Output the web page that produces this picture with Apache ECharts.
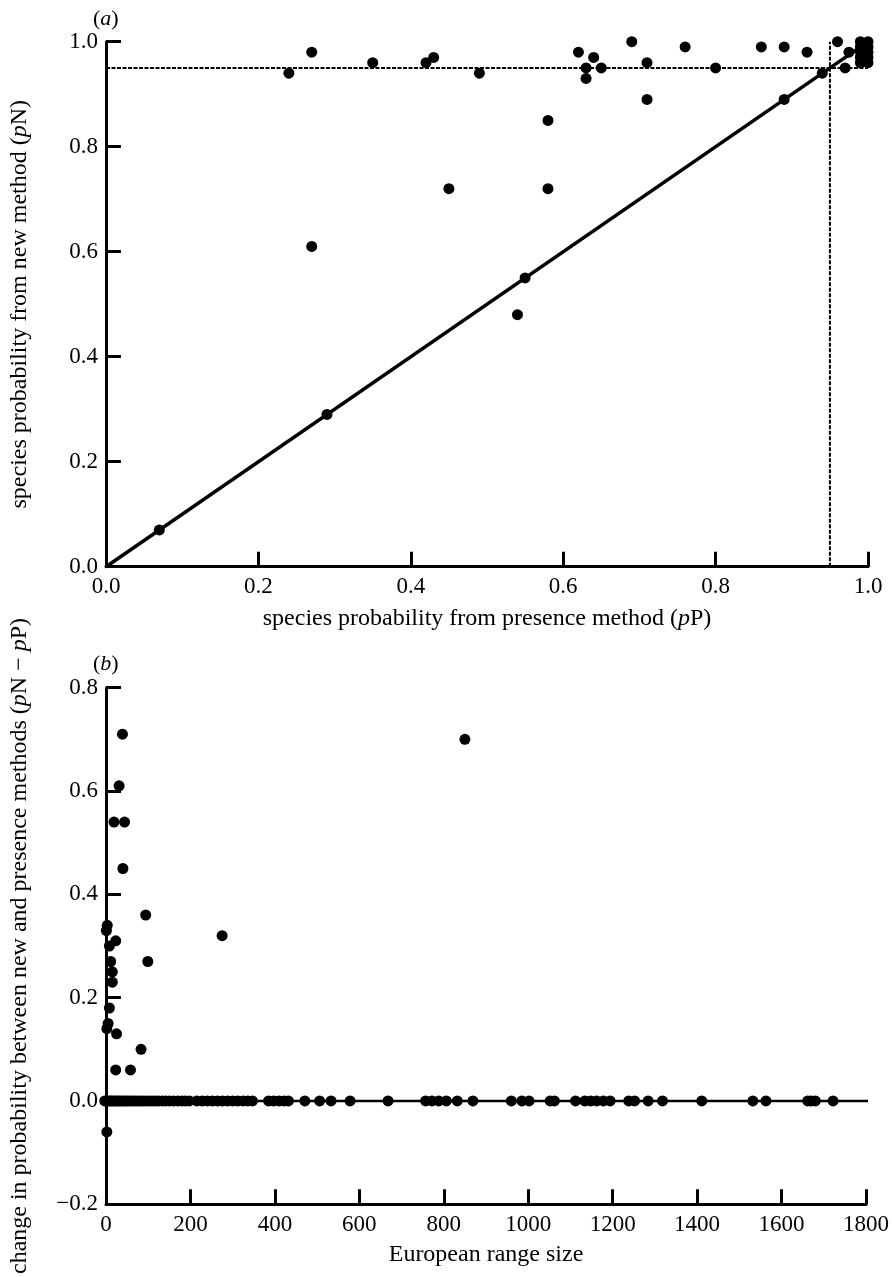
<!DOCTYPE html>
<html><head><meta charset="utf-8">
<script src="https://cdn.jsdelivr.net/npm/echarts@6/dist/echarts.min.js"></script>
<style>html,body{margin:0;padding:0;background:#fff}#c{width:892px;height:1277px}</style>
</head><body><div id="c"></div>
<script>
// ---------- Panel (a) data ----------
const aTicks = [0.0, 0.2, 0.4, 0.6, 0.8, 1.0];
const aPP = [0.07, 0.29, 0.55, 0.54, 0.27, 0.45, 0.58, 0.58, 0.24, 0.27, 0.35, 0.42, 0.43, 0.49, 0.62, 0.63, 0.63, 0.64, 0.65, 0.69, 0.71, 0.71, 0.76, 0.80, 0.86, 0.89, 0.89, 0.92, 0.94, 0.96, 0.97, 0.975, 0.99, 1.00, 0.99, 1.00, 0.99, 1.00, 0.99, 1.00, 0.99, 1.00];
const aPN = [0.07, 0.29, 0.55, 0.48, 0.61, 0.72, 0.72, 0.85, 0.94, 0.98, 0.96, 0.96, 0.97, 0.94, 0.98, 0.95, 0.93, 0.97, 0.95, 1.00, 0.96, 0.89, 0.99, 0.95, 0.99, 0.99, 0.89, 0.98, 0.94, 1.00, 0.95, 0.98, 1.00, 1.00, 0.99, 0.99, 0.98, 0.98, 0.97, 0.97, 0.96, 0.96];
const threshold = 0.95;

// ---------- Panel (b) data ----------
const bTicksX = [0, 200, 400, 600, 800, 1000, 1200, 1400, 1600, 1800];
const bTicksY = [-0.2, 0.0, 0.2, 0.4, 0.6, 0.8];
const bRange = [39, 850, 31, 19, 44, 40, 94, 3, 1, 275, 23, 8, 99, 11, 15, 15, 8, 5, 2, 25, 83, 23, 58, 2];
const bDiff  = [0.71, 0.70, 0.61, 0.54, 0.54, 0.45, 0.36, 0.34, 0.33, 0.32, 0.31, 0.30, 0.27, 0.27, 0.25, 0.23, 0.18, 0.15, 0.14, 0.13, 0.10, 0.06, 0.06, -0.06];
const bZeroRange = [-3, 2, 6, 10, 14, 18, 22, 27, 31, 36, 40, 45, 50, 55, 61, 66, 72, 78, 84, 90, 97, 104, 111, 118, 125, 133, 141, 150, 160, 170, 180, 188, 197,
  215, 228, 240, 252, 264, 276, 288, 300, 312, 325, 336, 347,
  385, 397, 410, 422, 432, 471, 506, 533, 578, 668,
  757, 772, 788, 806, 832, 869, 960, 985, 1002, 1052, 1062,
  1112, 1134, 1148, 1162, 1178, 1194, 1238, 1252, 1284, 1318, 1411, 1532, 1563, 1662, 1670, 1680, 1722];
const zeroLineEnd = 1810;

const FONT = '"Liberation Serif", "DejaVu Serif", serif';
const chart = echarts.init(document.getElementById('c'), null, {renderer: 'canvas'});
const axisLine = {show: true, onZero: false, lineStyle: {color: '#000', width: 3}};
const axisTick = {show: true, inside: true, length: 15, lineStyle: {color: '#000', width: 3}};
const tickLabel = (extra) => Object.assign({color: '#000', fontFamily: FONT, fontSize: 23,
  formatter: v => (v < -1e-9 ? '\u2212' : '') + Math.abs(v).toFixed(1)}, extra);
const nameStyle = {color: '#000', fontFamily: FONT, fontSize: 24,
  rich: {t: {fontFamily: FONT, fontSize: 24, color: '#000'}, i: {fontFamily: FONT, fontSize: 24, fontStyle: 'italic', color: '#000'}}};
const dot = {color: '#000', opacity: 1};

chart.setOption({
  animation: false,
  backgroundColor: '#fff',
  grid: [
    {left: 96, top: 41.7, width: 772, height: 525, containLabel: false},
    {left: 96, top: 687.7, width: 770, height: 525, containLabel: false}
  ],
  xAxis: [
    {gridIndex: 0, type: 'value', min: aTicks[0], max: aTicks[aTicks.length - 1], interval: 0.2,
     axisLine, axisTick, splitLine: {show: false}, axisLabel: tickLabel({margin: 9}),
     name: '{t|species probability from presence method (}{i|p}{t|P)}', nameLocation: 'middle', nameGap: 40, nameTextStyle: nameStyle},
    {gridIndex: 1, type: 'value', min: bTicksX[0], max: bTicksX[bTicksX.length - 1], interval: 200,
     axisLine, axisTick, splitLine: {show: false},
     axisLabel: {color: '#000', fontFamily: FONT, fontSize: 23, margin: 9, formatter: v => String(v)},
     name: 'European range size', nameLocation: 'middle', nameGap: 38, nameTextStyle: nameStyle}
  ],
  yAxis: [
    {gridIndex: 0, type: 'value', min: aTicks[0], max: aTicks[aTicks.length - 1], interval: 0.2,
     axisLine, axisTick, splitLine: {show: false}, axisLabel: tickLabel({margin: 8}),
     name: '{t|species probability from new method (}{i|p}{t|N)}', nameLocation: 'middle', nameGap: 74, nameRotate: 90, nameTextStyle: nameStyle},
    {gridIndex: 1, type: 'value', min: bTicksY[0], max: bTicksY[bTicksY.length - 1], interval: 0.2,
     axisLine, axisTick, splitLine: {show: false}, axisLabel: tickLabel({margin: 8}),
     name: '{t|change in probability between new and presence methods (}{i|p}{t|N \u2212 }{i|p}{t|P)}', nameLocation: 'middle', nameGap: 74, nameRotate: 90, nameTextStyle: nameStyle}
  ],
  graphic: [
    {type: 'text', left: 93, top: 8, style: {text: '{t|(}{i|a}{t|)}', rich: {t: {fontFamily: FONT, fontSize: 22, fill: '#000'}, i: {fontFamily: FONT, fontSize: 22, fontStyle: 'italic', fill: '#000'}}}},
    {type: 'text', left: 93, top: 653, style: {text: '{t|(}{i|b}{t|)}', rich: {t: {fontFamily: FONT, fontSize: 22, fill: '#000'}, i: {fontFamily: FONT, fontSize: 22, fontStyle: 'italic', fill: '#000'}}}}
  ],
  series: [
    {type: 'line', xAxisIndex: 0, yAxisIndex: 0, data: [[0, threshold], [1, threshold]], symbol: 'none', silent: true,
     lineStyle: {color: '#000', width: 2, type: [4, 1.5]}},
    {type: 'line', xAxisIndex: 0, yAxisIndex: 0, data: [[threshold, 0], [threshold, 1]], symbol: 'none', silent: true,
     lineStyle: {color: '#000', width: 2, type: [4, 1.5]}},
    {type: 'line', xAxisIndex: 0, yAxisIndex: 0, data: [[0, 0], [0.985, 0.985]], symbol: 'none', silent: true,
     lineStyle: {color: '#000', width: 3.5}},
    {type: 'scatter', xAxisIndex: 0, yAxisIndex: 0, symbolSize: 11, itemStyle: dot,
     data: aPP.map((x, i) => [x, aPN[i]])},
    {type: 'line', xAxisIndex: 1, yAxisIndex: 1, data: [[0, 0], [zeroLineEnd, 0]], symbol: 'none', silent: true, clip: false,
     lineStyle: {color: '#000', width: 2.5}},
    {type: 'scatter', xAxisIndex: 1, yAxisIndex: 1, symbolSize: 11, itemStyle: dot, clip: false,
     data: bZeroRange.map(x => [x, 0])},
    {type: 'scatter', xAxisIndex: 1, yAxisIndex: 1, symbolSize: 11, itemStyle: dot, clip: false,
     data: bRange.map((x, i) => [x, bDiff[i]])}
  ]
});
</script></body></html>
